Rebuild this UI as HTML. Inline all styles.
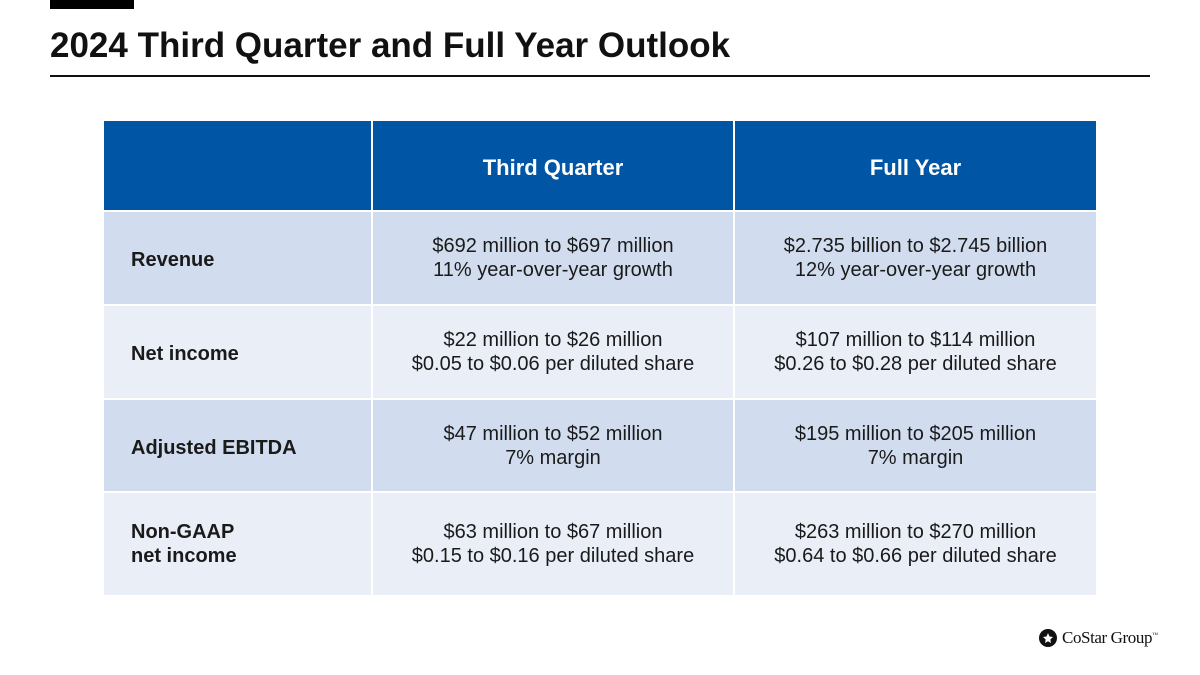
<!DOCTYPE html>
<html><head><meta charset="utf-8"><style>
body{margin:0;width:1200px;height:675px;background:#fff;position:relative;overflow:hidden;font-family:"Liberation Sans",Arial,sans-serif}
.abs{position:absolute}
.cell{position:absolute;display:flex;align-items:center;box-sizing:border-box;font-size:20px;color:#1a1a1a;line-height:24px}
.c{justify-content:center;text-align:center}
.h{background:#0055a5;color:#fff;font-weight:bold;font-size:22px}
.d{background:#d1ddef}.l{background:#e9eef7}
.lab{font-weight:bold;padding-left:27px;padding-top:4px}
</style></head><body>
<div class="abs" style="left:50px;top:0;width:84px;height:9px;background:#000"></div>
<div class="abs" style="left:50px;top:25px;font-size:35px;line-height:42px;font-weight:bold;color:#111">2024 Third Quarter and Full Year Outlook</div>
<div class="abs" style="left:50px;top:75px;width:1100px;height:2px;background:#111"></div>

<div>
<div class="cell h" style="left:104px;top:121px;width:267px;height:89px"></div>
<div class="cell h c" style="left:373px;top:121px;width:360px;height:89px;padding-top:4px">Third Quarter</div>
<div class="cell h c" style="left:735px;top:121px;width:361px;height:89px;padding-top:4px">Full Year</div>

<div class="cell d lab" style="left:104px;top:212px;width:267px;height:92px">Revenue</div>
<div class="cell d c" style="left:373px;top:212px;width:360px;height:92px">$692 million to $697 million<br>11% year-over-year growth</div>
<div class="cell d c" style="left:735px;top:212px;width:361px;height:92px">$2.735 billion to $2.745 billion<br>12% year-over-year growth</div>

<div class="cell l lab" style="left:104px;top:306px;width:267px;height:92px">Net income</div>
<div class="cell l c" style="left:373px;top:306px;width:360px;height:92px">$22 million to $26 million<br>$0.05 to $0.06 per diluted share</div>
<div class="cell l c" style="left:735px;top:306px;width:361px;height:92px">$107 million to $114 million<br>$0.26 to $0.28 per diluted share</div>

<div class="cell d lab" style="left:104px;top:400px;width:267px;height:91px">Adjusted EBITDA</div>
<div class="cell d c" style="left:373px;top:400px;width:360px;height:91px">$47 million to $52 million<br>7% margin</div>
<div class="cell d c" style="left:735px;top:400px;width:361px;height:91px">$195 million to $205 million<br>7% margin</div>

<div class="cell l lab" style="left:104px;top:493px;width:267px;height:102px;padding-top:0">Non-GAAP<br>net income</div>
<div class="cell l c" style="left:373px;top:493px;width:360px;height:102px">$63 million to $67 million<br>$0.15 to $0.16 per diluted share</div>
<div class="cell l c" style="left:735px;top:493px;width:361px;height:102px">$263 million to $270 million<br>$0.64 to $0.66 per diluted share</div>
</div>

<div class="abs" style="left:1038px;top:628px;display:flex;align-items:center">
<svg width="20" height="20" viewBox="0 0 20 20"><circle cx="10" cy="10" r="9" fill="#111"/><polygon points="10,5 11.5,8.5 15,9 12.3,11.5 13,15 10,13.2 7,15 7.7,11.5 5,9 8.5,8.5" fill="#fff"/></svg>
<span style="font-family:'Liberation Serif',serif;font-size:17px;letter-spacing:-0.4px;color:#111;margin-left:4px">CoStar Group<sup style="font-size:6px">™</sup></span>
</div>
</body></html>
